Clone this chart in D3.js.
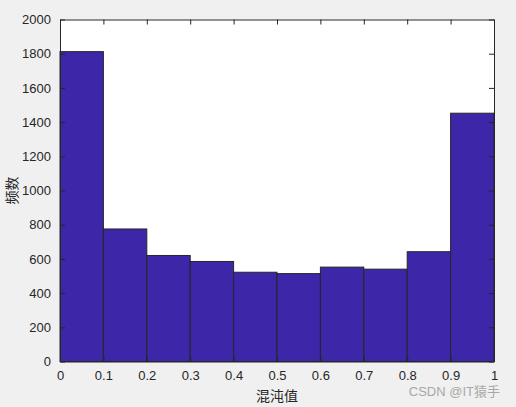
<!DOCTYPE html>
<html><head><meta charset="utf-8">
<script src="https://cdn.jsdelivr.net/npm/d3@7"></script>
<style>html,body{margin:0;padding:0;background:#f0f0f0;}svg{display:block;}</style>
</head><body>
<script>
const binEdges = [0,0.1,0.2,0.3,0.4,0.5,0.6,0.7,0.8,0.9,1];
const counts = [1812,775,620,585,522,514,552,540,642,1452];
const xTicks = [0,0.1,0.2,0.3,0.4,0.5,0.6,0.7,0.8,0.9,1];
const yTicks = [0,200,400,600,800,1000,1200,1400,1600,1800,2000];
const xLabel = "混沌值";
const yLabel = "频数";
const watermark = "CSDN @IT猿手";

const W=516,H=407;
const L=60,R=494,T=19.5,B=361.5;
const svg=d3.select("body").append("svg").attr("width",W).attr("height",H);
svg.append("rect").attr("width",W).attr("height",H).attr("fill","#f0f0f0");
const x=d3.scaleLinear().domain([0,1]).range([L,R]);
const y=d3.scaleLinear().domain([0,2000]).range([B,T]);
svg.append("rect").attr("x",L).attr("y",T).attr("width",R-L).attr("height",B-T).attr("fill","#fff");

const bins=counts.map((c,i)=>({x0:binEdges[i],x1:binEdges[i+1],c}));
svg.append("g").selectAll("rect").data(bins).join("rect")
 .attr("x",d=>x(d.x0)).attr("y",d=>y(d.c))
 .attr("width",d=>x(d.x1)-x(d.x0)).attr("height",d=>y(0)-y(d.c))
 .attr("fill","#3e26a8").attr("stroke","#262626").attr("stroke-width",1);

const font="Arial, 'Liberation Sans', Helvetica, sans-serif";
const tc="#262626";
const gx=svg.append("g").attr("transform",`translate(0,${B})`)
 .call(d3.axisBottom(x).tickValues(xTicks).tickFormat(d3.format("")).tickSizeInner(-5).tickSizeOuter(0).tickPadding(9));
const gy=svg.append("g").attr("transform",`translate(${L},0)`)
 .call(d3.axisLeft(y).tickValues(yTicks).tickFormat(d3.format("d")).tickSizeInner(-5).tickSizeOuter(0).tickPadding(9));
const gt=svg.append("g").attr("transform",`translate(0,${T})`)
 .call(d3.axisTop(x).tickValues(xTicks).tickFormat("").tickSizeInner(-5).tickSizeOuter(0));
const gr=svg.append("g").attr("transform",`translate(${R},0)`)
 .call(d3.axisRight(y).tickValues(yTicks).tickFormat("").tickSizeInner(-5).tickSizeOuter(0));
[gx,gy,gt,gr].forEach(g=>{
 g.select(".domain").attr("stroke",tc).attr("stroke-width",1);
 g.selectAll(".tick line").attr("stroke",tc);
 g.selectAll(".tick text").attr("fill",tc).style("font-family",font).style("font-size","13px");
});
svg.append("text").attr("x",(L+R)/2).attr("y",401).attr("text-anchor","middle")
 .attr("fill",tc).style("font-family","'Noto Sans CJK SC', sans-serif").style("font-size","14px").text(xLabel);
svg.append("text").attr("transform",`translate(12,${(T+B)/2}) rotate(-90)`).attr("text-anchor","middle")
 .attr("dy","0.35em")
 .attr("fill",tc).style("font-family","'Noto Sans CJK SC', sans-serif").style("font-size","14px").text(yLabel);
svg.append("text").attr("x",500).attr("y",396).attr("text-anchor","end")
 .attr("fill","#a8a8a8").style("font-family","Arial, 'Noto Sans CJK SC', sans-serif").style("font-size","13px").text(watermark);
</script>
</body></html>
